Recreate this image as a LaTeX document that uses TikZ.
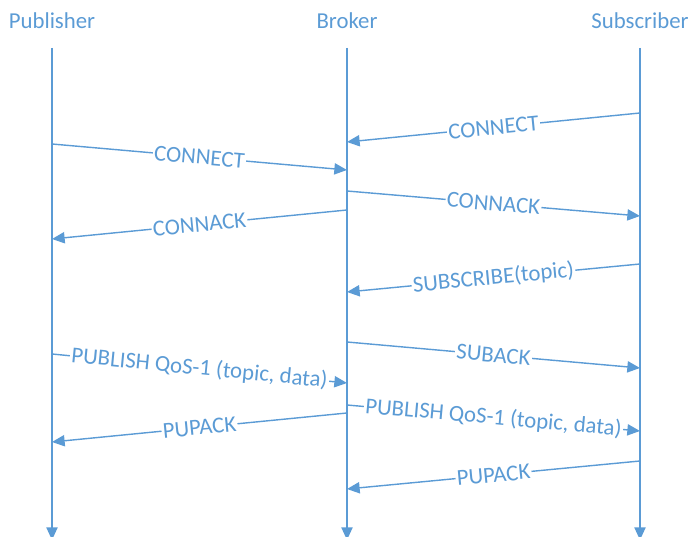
\documentclass[tikz,border=0pt]{standalone}
\usepackage{fontspec}
\setmainfont{Carlito}
\usepackage{tikz}
\usetikzlibrary{arrows.meta,backgrounds}
\pgfdeclarelayer{edgelayer}
\pgfdeclarelayer{nodelayer}
\pgfsetlayers{background,edgelayer,nodelayer,main}
\definecolor{seqblue}{RGB}{91,155,213}
\tikzstyle{none}=[inner sep=0mm]
\tikzstyle{every picture}=[x=0.025cm,y=-0.025cm]
\tikzstyle{actor}=[text=seqblue,inner sep=0mm,font=\fontsize{16.2}{19}\selectfont]
\tikzstyle{lifeline}=[draw=seqblue,line width=1pt,-{Triangle[length=9pt,width=8pt]}]
\tikzstyle{msg}=[lifeline]
\tikzstyle{msglabel}=[fill=white,text=seqblue,inner sep=1pt,sloped,midway,font=\fontsize{16.2}{19}\selectfont]

\begin{document}
\begin{tikzpicture}
	\useasboundingbox (0,0) rectangle (693,537);
	\begin{pgfonlayer}{nodelayer}
		\node [style=actor] (pub) at (52, 21) {Publisher};
		\node [style=actor] (brk) at (347, 21) {Broker};
		\node [style=actor] (sub) at (640, 21) {Subscriber};
		\node [style=none] (p0) at (52, 48) {};
		\node [style=none] (pe) at (52, 540) {};
		\node [style=none] (b0) at (347, 48) {};
		\node [style=none] (be) at (347, 540) {};
		\node [style=none] (s0) at (640, 48) {};
		\node [style=none] (se) at (640, 540) {};
		\node [style=none] (s1) at (640, 113) {};
		\node [style=none] (b1) at (347, 142) {};
		\node [style=none] (p1) at (52, 144) {};
		\node [style=none] (b2) at (347, 170) {};
		\node [style=none] (b3) at (347, 191) {};
		\node [style=none] (s2) at (640, 216) {};
		\node [style=none] (b4) at (347, 210) {};
		\node [style=none] (p2) at (52, 239) {};
		\node [style=none] (s3) at (640, 264) {};
		\node [style=none] (b5) at (347, 292) {};
		\node [style=none] (b6) at (347, 342) {};
		\node [style=none] (s4) at (640, 368) {};
		\node [style=none] (p3) at (52, 354) {};
		\node [style=none] (b7) at (347, 383) {};
		\node [style=none] (b8) at (347, 405) {};
		\node [style=none] (s5) at (640, 431) {};
		\node [style=none] (b9) at (347, 413) {};
		\node [style=none] (p4) at (52, 442) {};
		\node [style=none] (s6) at (640, 461) {};
		\node [style=none] (b10) at (347, 489) {};
	\end{pgfonlayer}
	\begin{pgfonlayer}{edgelayer}
		\draw [style=lifeline] (p0.center) to (pe.center);
		\draw [style=lifeline] (b0.center) to (be.center);
		\draw [style=lifeline] (s0.center) to (se.center);
		\draw [style=msg] (s1.center) to node [style=msglabel] {CONNECT} (b1.center);
		\draw [style=msg] (p1.center) to node [style=msglabel] {CONNECT} (b2.center);
		\draw [style=msg] (b3.center) to node [style=msglabel] {CONNACK} (s2.center);
		\draw [style=msg] (b4.center) to node [style=msglabel] {CONNACK} (p2.center);
		\draw [style=msg] (s3.center) to node [style=msglabel] {SUBSCRIBE(topic)} (b5.center);
		\draw [style=msg] (b6.center) to node [style=msglabel] {SUBACK} (s4.center);
		\draw [style=msg] (p3.center) to node [style=msglabel] {PUBLISH QoS-1 (topic, data)} (b7.center);
		\draw [style=msg] (b8.center) to node [style=msglabel] {PUBLISH QoS-1 (topic, data)} (s5.center);
		\draw [style=msg] (b9.center) to node [style=msglabel] {PUPACK} (p4.center);
		\draw [style=msg] (s6.center) to node [style=msglabel] {PUPACK} (b10.center);
	\end{pgfonlayer}
\end{tikzpicture}
\end{document}
